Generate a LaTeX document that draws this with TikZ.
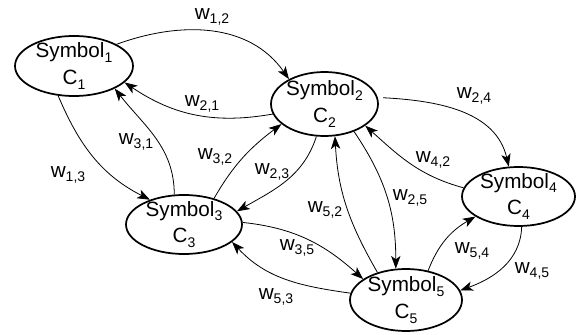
\documentclass[tikz,border=0pt]{standalone}
\usepackage{fontspec}
\setmainfont{Liberation Sans}
\usetikzlibrary{shapes.geometric,arrows.meta}
\newcommand\sbs[1]{\raisebox{-3.5pt}{\fontsize{10.5}{12}\selectfont #1}}
\begin{document}
\begin{tikzpicture}[x=0.75pt,y=-0.75pt,
  st/.style={ellipse,draw,line width=1.3pt,inner sep=0pt},
  txt/.style={font=\fontsize{15.5}{20}\selectfont,align=center,inner sep=0pt},
  lbl/.style={font=\fontsize{15.5}{20}\selectfont,inner sep=0pt},
  edge/.style={line width=0.6pt,-{Stealth[length=9.5pt,width=7pt,inset=2.5pt]}}]
\useasboundingbox (0,0) rectangle (576,335);
\node[st,minimum width=88.5pt,minimum height=45pt] (e1) at (74,66) {};
\node[st,minimum width=80.25pt,minimum height=48pt] (e2) at (324.5,104) {};
\node[st,minimum width=87pt,minimum height=44.25pt] (e3) at (184,224.5) {};
\node[st,minimum width=84.75pt,minimum height=44.25pt] (e4) at (518.5,196.5) {};
\node[st,minimum width=84pt,minimum height=46.5pt] (e5) at (406,300) {};
\node[txt] (t1) at (e1) {Symbol\sbs{1}\\C\sbs{1}};
\node[txt] (t2) at (e2) {Symbol\sbs{2}\\C\sbs{2}};
\node[txt] (t3) at (e3) {Symbol\sbs{3}\\C\sbs{3}};
\node[txt] (t4) at (e4) {Symbol\sbs{4}\\C\sbs{4}};
\node[txt] (t5) at (e5) {Symbol\sbs{5}\\C\sbs{5}};
% edges
\draw[edge] (e1.27.6) to[out=20,in=125] (e2.145.3);
\draw[edge] (e2.191.4) to[out=190,in=-34] (e1.342.5);
\draw[edge] (e1.242.7) to[out=-67,in=153] (e3.144.4);
\draw[edge] (e3.108.2) to[out=90,in=-52] (e1.331.9);
\draw[edge] (e3.41.8) to[out=60,in=217] (e2.205.3);
\draw[edge] (e2.256.8) to[out=252,in=30] (e3.14);
\draw[edge,shorten <=4pt] (e2.7) to[out=-3,in=103] (e4.108.4);
\draw[edge] (e4.171.4) to[out=165,in=-42] (e2.332.7);
\draw[edge] (e2.317.3) to[out=-56,in=90] (e5.108.4);
\draw[edge] (e5.136.9) to[out=120,in=-87] (e2.288.2);
\draw[edge] (e3.2.4) to[out=-6,in=138] (e5.154.9);
\draw[edge] (e5.173.1) to[out=172,in=-47] (e3.340.3);
\draw[edge] (e5.53.7) to[out=69,in=210] (e4.205.7);
\draw[edge] (e4.276.8) to[out=-92,in=20] (e5.10.9);
% labels
\node[lbl] (l12) at (212,17) {w\sbs{1,2}};
\node[lbl] (l21) at (202,104) {w\sbs{2,1}};
\node[lbl] (l13) at (68,175) {w\sbs{1,3}};
\node[lbl] (l31) at (136,142) {w\sbs{3,1}};
\node[lbl] (l32) at (215,157) {w\sbs{3,2}};
\node[lbl] (l23) at (272,172) {w\sbs{2,3}};
\node[lbl] (l24) at (474,96) {w\sbs{2,4}};
\node[lbl] (l42) at (433,160) {w\sbs{4,2}};
\node[lbl] (l25) at (410,198) {w\sbs{2,5}};
\node[lbl] (l52) at (325,210) {w\sbs{5,2}};
\node[lbl] (l35) at (297,248) {w\sbs{3,5}};
\node[lbl] (l53) at (276,297) {w\sbs{5,3}};
\node[lbl] (l54) at (472,251) {w\sbs{5,4}};
\node[lbl] (l45) at (532,271) {w\sbs{4,5}};
\end{tikzpicture}
\end{document}
